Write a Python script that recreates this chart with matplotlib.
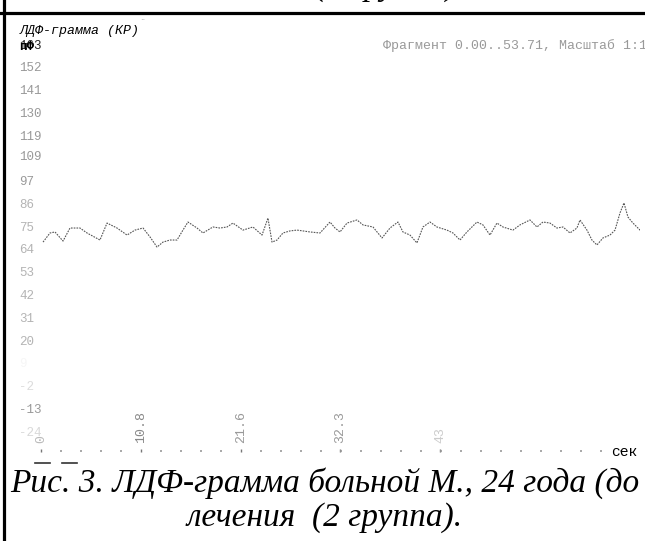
import matplotlib
matplotlib.use('Agg')
import matplotlib.pyplot as plt
from matplotlib.lines import Line2D
from matplotlib.ticker import MultipleLocator

# LDF trace (time in s, perfusion in pF units)
t = [0.22, 0.97, 1.51, 2.38, 3.13, 4.21, 4.97, 6.37, 7.13, 8.21,
     9.29, 10.15, 11.02, 11.77, 12.53, 13.17, 13.93, 14.69, 15.33, 15.87,
     16.85, 17.49, 18.57, 19.33, 20.09, 20.73, 21.81, 22.89, 23.87, 24.51,
     24.95, 25.49, 26.13, 26.89, 27.65, 28.29, 29.05, 30.13, 31.21, 31.75,
     32.29, 33.05, 34.13, 34.77, 35.85, 36.83, 37.69, 38.55, 39.09, 39.85,
     40.60, 41.25, 42.01, 42.76, 43.84, 44.49, 45.25, 46.00, 47.08, 47.73,
     48.49, 49.24, 49.89, 50.97, 51.73, 52.81, 53.56, 54.21, 54.97, 55.72,
     56.37, 57.13, 57.88, 58.21, 58.96, 59.50, 60.04, 60.69, 61.45, 61.99,
     62.53, 62.96, 63.39, 63.93, 64.69, 65.01]
ldf = [67.3, 71.7, 72.2, 67.8, 74.1, 74.1, 71.7, 68.3, 76.5, 74.1,
       70.7, 73.1, 74.1, 69.8, 64.9, 67.3, 68.3, 68.3, 73.1, 77.0,
       74.1, 71.7, 74.6, 74.1, 74.6, 76.5, 73.1, 74.6, 70.7, 78.9,
       67.3, 68.3, 71.7, 72.7, 73.1, 72.7, 72.2, 71.7, 77.0, 74.1,
       72.2, 76.5, 78.0, 75.6, 74.6, 69.3, 74.1, 77.0, 72.2, 70.7,
       66.9, 74.6, 77.0, 74.6, 73.1, 71.7, 68.3, 72.2, 77.0, 75.6,
       70.7, 76.5, 74.6, 73.1, 75.6, 78.0, 74.6, 77.0, 76.5, 74.1,
       74.6, 71.7, 74.1, 78.0, 73.1, 68.3, 65.9, 69.3, 70.7, 73.1,
       81.4, 86.2, 79.4, 76.5, 73.1, 77.0]

yticks = [163, 152, 141, 130, 119, 109, 97, 86, 75, 64, 53, 42, 31, 20, 9, -2, -13, -24]
ylabels = ['163', '152', '141', '130', '119', '109', '97', '86', '75', '64',
           '53', '42', '31', '20', '9', '-2', '-13', '-24']
xticks = [0, 10.8, 21.6, 32.3, 43.1]
xlabels = ['0', '10.8', '21.6', '32.3', '43']

ycolors = ['#222'] + ['#999'] * 6 + ['#b4b4b4'] * 7 + ['#f6f6f6', '#dcdcdc', '#999', '#d8d8d8']
xcolors = ['#bbb', '#888', '#999', '#999', '#ccc']

W, H = 645, 541
def fx(px): return px / W
def fy(py): return 1 - py / H

mono = 'Liberation Mono'
serif = ['Liberation Serif', 'DejaVu Serif']
fig = plt.figure(figsize=(6.45, 5.41), dpi=100)
ax = fig.add_axes([fx(41), 89 / H, 599 / W, 408 / H])
ax.plot(t, ldf, color='#555', lw=0.8, linestyle=(0, (1.5, 1)))
ax.set_xlim(0, 64.69)
ax.set_ylim(-34.1, 163)
for s in ax.spines.values():
    s.set_visible(False)

ax.set_yticks(yticks)
ax.set_yticklabels(ylabels, family=mono, fontsize=9)
ax.tick_params(axis='y', length=0, pad=15.8)
for lab, c in zip(ax.get_yticklabels(), ycolors):
    lab.set_horizontalalignment('left')
    lab.set_color(c)

ax.set_xticks(xticks)
ax.set_xticklabels(xlabels, family=mono, fontsize=9.5, rotation=90)
ax.xaxis.set_minor_locator(MultipleLocator(2.16))
ax.tick_params(axis='x', which='major', length=2, width=1, color='#777', direction='in', pad=-6.5)
ax.tick_params(axis='x', which='minor', length=1.2, width=1.2, color='#999', direction='in')
for lab, c in zip(ax.get_xticklabels(), xcolors):
    lab.set_verticalalignment('bottom')
    lab.set_color(c)

# frame of the scanned page
fig.add_artist(Line2D([0, 1], [fy(12.5)] * 2, lw=2.3, color='k', transform=fig.transFigure))
fig.add_artist(Line2D([fx(4)] * 2, [0, 1], lw=2.3, color='k', transform=fig.transFigure))
fig.add_artist(Line2D([fx(35), fx(50)], [fy(463)] * 2, lw=1.2, color='#333', transform=fig.transFigure))
fig.add_artist(Line2D([fx(62), fx(77)], [fy(463)] * 2, lw=1.2, color='#333', transform=fig.transFigure))

# tail of the previous caption, cut by the page edge
fig.text(fx(315), 1 + 5 / H, '(2 группа)', family=serif, style='italic',
         fontsize=24, va='baseline')
fig.text(fx(140), fy(17), '..', color='#999', fontsize=6, va='center')

fig.text(fx(20), fy(31), 'ЛДФ-грамма (КР)', family=mono, style='italic', fontsize=9.5, va='center')
fig.text(fx(19), fy(47), 'пФ', family=mono, weight='bold', fontsize=9, va='center')
fig.text(fx(383), fy(46), 'Фрагмент 0.00..53.71, Масштаб 1:1', family=mono, color='#999',
         fontsize=9.5, va='center')
fig.text(fx(611), fy(452), 'сек', family=mono, fontsize=10.5, va='center')

fig.text(fx(325), fy(492), 'Рис. 3. ЛДФ-грамма больной М., 24 года (до', family=serif,
         style='italic', fontsize=24, ha='center', va='baseline')
fig.text(fx(325), fy(526), 'лечения  (2 группа).', family=serif,
         style='italic', fontsize=24, ha='center', va='baseline')

fig.savefig('out.png', dpi=100)
